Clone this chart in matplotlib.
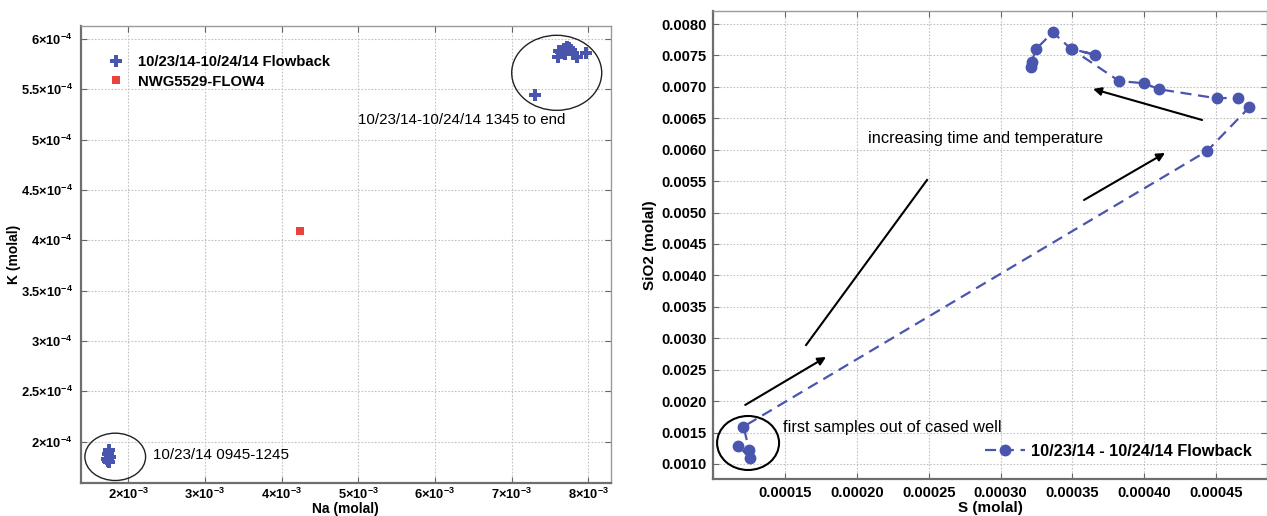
import matplotlib
matplotlib.use("Agg")
import matplotlib.pyplot as plt
from matplotlib.patches import Ellipse
from matplotlib.ticker import FuncFormatter, MultipleLocator

plt.rcParams['font.family'] = ['Liberation Sans', 'DejaVu Sans']
plt.rcParams['mathtext.fontset'] = 'custom'
plt.rcParams['mathtext.rm'] = 'Liberation Sans'
plt.rcParams['mathtext.bf'] = 'Liberation Sans:bold'

# Na vs K, flowback samples (molal)
na_flow = [1.75e-3, 1.74e-3, 1.76e-3, 1.72e-3, 1.75e-3, 1.73e-3,
           7.30e-3, 7.60e-3, 7.62e-3, 7.65e-3, 7.68e-3, 7.70e-3, 7.72e-3,
           7.75e-3, 7.78e-3, 7.80e-3, 7.85e-3, 7.97e-3]
k_flow = [1.92e-4, 1.88e-4, 1.85e-4, 1.83e-4, 1.80e-4, 1.81e-4,
          5.44e-4, 5.82e-4, 5.88e-4, 5.87e-4, 5.90e-4, 5.85e-4, 5.92e-4,
          5.91e-4, 5.89e-4, 5.85e-4, 5.82e-4, 5.86e-4]
na_ref = [4.24e-3]
k_ref = [4.09e-4]

# S vs SiO2 flowback series, in sample order
s_flow = [0.0001175, 0.0001256, 0.000125, 0.000121, 0.0004438, 0.0004732,
          0.0004651, 0.0004505, 0.0004106, 0.0003999, 0.0003825, 0.0003496,
          0.0003658, 0.0003490, 0.0003364, 0.0003245, 0.0003217, 0.000321]
sio2_flow = [0.001287, 0.001091, 0.001223, 0.001594, 0.00598, 0.006675,
             0.006828, 0.006818, 0.006961, 0.007057, 0.007093, 0.007598,
             0.007512, 0.007605, 0.007868, 0.007598, 0.0074, 0.007321]

left_yticks = [2e-4, 2.5e-4, 3e-4, 3.5e-4, 4e-4, 4.5e-4, 5e-4, 5.5e-4, 6e-4]
left_xticks = [2e-3, 3e-3, 4e-3, 5e-3, 6e-3, 7e-3, 8e-3]

blue = '#4a55ad'
red = '#e8433f'


def sci_label(v, exp):
    m = v / 10 ** exp
    ms = ('%.1f' % m).rstrip('0').rstrip('.')
    return ms + '\u00d710$^{\\mathbf{%d}}$' % exp


def style_axes(ax):
    ax.grid(True, linestyle=(0, (1.5, 1.5)), color='#c2c2c2', linewidth=0.8)
    ax.set_axisbelow(True)
    ax.tick_params(direction='in', length=4, top=True, right=True,
                   color='#666666')
    for side in ['left', 'bottom']:
        ax.spines[side].set_color('#6e6e6e')
        ax.spines[side].set_linewidth(1.6)
    for side in ['top', 'right']:
        ax.spines[side].set_color('#9a9a9a')
        ax.spines[side].set_linewidth(1.0)


fig = plt.figure(figsize=(12.67, 5.16), dpi=100)

# ---- left: Na vs K ----
ax1 = fig.add_axes([0.0639, 0.0645, 0.482 - 0.0639, 0.9496 - 0.0645])
style_axes(ax1)
ax1.plot(na_flow, k_flow, linestyle='none', marker='P', markersize=8.5,
         color=blue, markeredgewidth=0, label='10/23/14-10/24/14 Flowback')
ax1.plot(na_ref, k_ref, linestyle='none', marker='s', markersize=6,
         color=red, markeredgewidth=0, label='NWG5529-FLOW4')
ax1.set_xlim(1.383e-3, 8.292e-3)
ax1.set_ylim(1.592e-4, 6.129e-4)
ax1.set_xticks(left_xticks)
ax1.set_yticks(left_yticks)
ax1.xaxis.set_major_formatter(FuncFormatter(lambda v, p: sci_label(v, -3)))
ax1.yaxis.set_major_formatter(FuncFormatter(lambda v, p: sci_label(v, -4)))
for lab in ax1.get_xticklabels() + ax1.get_yticklabels():
    lab.set_fontweight('bold')
    lab.set_fontsize(9.3)
ax1.tick_params(axis='x', pad=3)
ax1.tick_params(axis='y', pad=6)
ax1.set_xlabel('Na (molal)', fontsize=10, fontweight='bold', labelpad=0)
ax1.set_ylabel('K (molal)', fontsize=10, fontweight='bold', labelpad=0)

ax1.add_patch(Ellipse((7.588e-3, 5.664e-4), 1.174e-3, 0.7455e-4,
                      fill=False, edgecolor='#222222', linewidth=1.0))
ax1.add_patch(Ellipse((1.830e-3, 1.849e-4), 0.792e-3, 0.470e-4,
                      fill=False, edgecolor='#222222', linewidth=1.0))
ax1.text(4.996e-3, 5.192e-4, '10/23/14-10/24/14 1345 to end',
         fontsize=10.9, va='center', ha='left')
ax1.text(2.322e-3, 1.872e-4, '10/23/14 0945-1245',
         fontsize=10.9, va='center', ha='left')

ax1.legend(loc='upper left', bbox_to_anchor=(0.012, 0.965),
           frameon=False, handletextpad=0.5, labelspacing=0.35,
           prop={'weight': 'bold', 'size': 10.7})

# ---- right: S vs SiO2 ----
ax2 = fig.add_axes([0.563, 0.0717, 1.0 - 0.563, 0.9787 - 0.0717])
style_axes(ax2)
ax2.plot(s_flow, sio2_flow, linestyle=(0, (5, 3)), linewidth=1.6,
         marker='o', markersize=7.5, color=blue,
         label='10/23/14 - 10/24/14 Flowback')
ax2.set_xlim(0.0001, 0.0004855)
ax2.set_ylim(0.000761, 0.008207)
ax2.xaxis.set_major_locator(MultipleLocator(0.00005))
ax2.yaxis.set_major_locator(MultipleLocator(0.0005))
ax2.xaxis.set_major_formatter(FuncFormatter(
    lambda v, p: '' if v < 0.000125 else '%.5f' % v))
ax2.yaxis.set_major_formatter(FuncFormatter(lambda v, p: '%.4f' % v))
for lab in ax2.get_xticklabels() + ax2.get_yticklabels():
    lab.set_fontweight('bold')
    lab.set_fontsize(10.6)
ax2.tick_params(axis='x', pad=5)
ax2.tick_params(axis='y', pad=5)
ax2.set_xlabel('S (molal)', fontsize=11, fontweight='bold', labelpad=1)
ax2.set_ylabel('SiO2 (molal)', fontsize=11, fontweight='bold', labelpad=3)

ax2.add_patch(Ellipse((0.0001242, 0.001334), 4.316e-5, 0.000859,
                      fill=False, edgecolor='black', linewidth=1.5))
ax2.text(0.0001486, 0.001573, 'first samples out of cased well',
         fontsize=11.8, va='center', ha='left')
ax2.text(0.0002078, 0.006186, 'increasing time and temperature',
         fontsize=11.8, va='center', ha='left')

# direction arrows
ax2.plot([0.0001646, 0.0002488], [0.002893, 0.005518], color='black',
         linewidth=1.5)
arrow_kw = dict(arrowstyle='-|>', color='black', linewidth=1.5,
                mutation_scale=12, shrinkA=0, shrinkB=0)
ax2.annotate('', xy=(0.0001785, 0.002702), xytext=(0.0001222, 0.001939),
             arrowprops=arrow_kw)
ax2.annotate('', xy=(0.0004145, 0.005948), xytext=(0.0003581, 0.0052),
             arrowprops=arrow_kw)
ax2.annotate('', xy=(0.0003644, 0.006966), xytext=(0.0004403, 0.006473),
             arrowprops=arrow_kw)

ax2.legend(loc='lower right', bbox_to_anchor=(1.0, 0.012), frameon=False,
           handlelength=2.4, handletextpad=0.4,
           prop={'weight': 'bold', 'size': 11.8})

fig.savefig('out.png', dpi=100)
